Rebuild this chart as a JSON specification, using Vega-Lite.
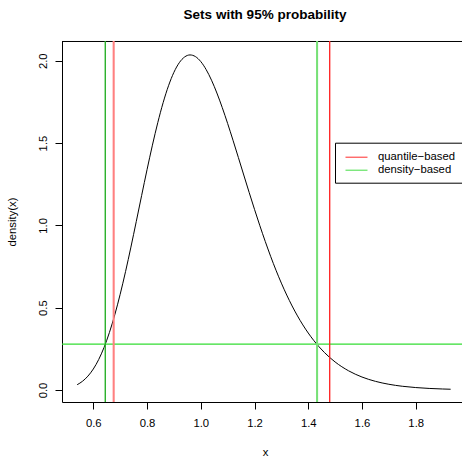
{
  "$schema": "https://vega.github.io/schema/vega-lite/v6.json",
  "autosize": "none",
  "width": 400,
  "height": 361,
  "padding": {"left": 62, "top": 41, "right": 0, "bottom": 55},
  "background": "white",
  "title": {
    "text": "Sets with 95% probability",
    "font": "Liberation Sans",
    "fontSize": 13.5,
    "fontWeight": "bold",
    "color": "black",
    "anchor": "middle",
    "frame": "group",
    "baseline": "alphabetic",
    "dx": 3,
    "offset": 8
  },
  "datasets": {
    "curve": [
      {"x": 0.54, "density": 0.0321},
      {"x": 0.56, "density": 0.0533},
      {"x": 0.58, "density": 0.0843},
      {"x": 0.60, "density": 0.1274},
      {"x": 0.62, "density": 0.1849},
      {"x": 0.64, "density": 0.2585},
      {"x": 0.66, "density": 0.3492},
      {"x": 0.68, "density": 0.4570},
      {"x": 0.70, "density": 0.5811},
      {"x": 0.72, "density": 0.7190},
      {"x": 0.74, "density": 0.8679},
      {"x": 0.76, "density": 1.0238},
      {"x": 0.78, "density": 1.1821},
      {"x": 0.80, "density": 1.3381},
      {"x": 0.82, "density": 1.4869},
      {"x": 0.84, "density": 1.6240},
      {"x": 0.86, "density": 1.7454},
      {"x": 0.88, "density": 1.8479},
      {"x": 0.90, "density": 1.9292},
      {"x": 0.92, "density": 1.9877},
      {"x": 0.94, "density": 2.0228},
      {"x": 0.96, "density": 2.0350},
      {"x": 0.98, "density": 2.0250},
      {"x": 1.00, "density": 1.9947},
      {"x": 1.02, "density": 1.9460},
      {"x": 1.04, "density": 1.8815},
      {"x": 1.06, "density": 1.8036},
      {"x": 1.08, "density": 1.7152},
      {"x": 1.10, "density": 1.6187},
      {"x": 1.12, "density": 1.5168},
      {"x": 1.14, "density": 1.4118},
      {"x": 1.16, "density": 1.3057},
      {"x": 1.18, "density": 1.2003},
      {"x": 1.20, "density": 1.0971},
      {"x": 1.22, "density": 0.9974},
      {"x": 1.24, "density": 0.9021},
      {"x": 1.26, "density": 0.8120},
      {"x": 1.28, "density": 0.7275},
      {"x": 1.30, "density": 0.6490},
      {"x": 1.32, "density": 0.5766},
      {"x": 1.34, "density": 0.5103},
      {"x": 1.36, "density": 0.4499},
      {"x": 1.38, "density": 0.3952},
      {"x": 1.40, "density": 0.3460},
      {"x": 1.42, "density": 0.3020},
      {"x": 1.44, "density": 0.2628},
      {"x": 1.46, "density": 0.2281},
      {"x": 1.48, "density": 0.1974},
      {"x": 1.50, "density": 0.1703},
      {"x": 1.55, "density": 0.1167},
      {"x": 1.60, "density": 0.0788},
      {"x": 1.65, "density": 0.0526},
      {"x": 1.70, "density": 0.0348},
      {"x": 1.75, "density": 0.0227},
      {"x": 1.80, "density": 0.0148},
      {"x": 1.85, "density": 0.0095},
      {"x": 1.90, "density": 0.0061},
      {"x": 1.93, "density": 0.0046}
    ],
    "bounds": [
      {"type": "quantile−based", "side": "lower", "x": 0.6757},
      {"type": "quantile−based", "side": "upper", "x": 1.4799},
      {"type": "density−based", "side": "lower", "x": 0.6445},
      {"type": "density−based", "side": "upper", "x": 1.4330}
    ],
    "level": [{"density": 0.278}]
  },
  "layer": [
    {
      "data": {"name": "curve"},
      "mark": {"type": "line", "color": "black", "strokeWidth": 1, "interpolate": "monotone"},
      "encoding": {
        "x": {
          "field": "x", "type": "quantitative",
          "scale": {"domain": [0.4835, 1.9723], "nice": false, "zero": false},
          "axis": {
            "title": "x",
            "values": [0.6, 0.8, 1.0, 1.2, 1.4, 1.6, 1.8],
            "format": ".1f",
            "grid": false,
            "tickSize": 7,
            "labelBaseline": "alphabetic",
            "labelPadding": 17,
            "labelFlush": false,
            "labelOverlap": false,
            "titleX": 203,
            "titleY": 53,
            "titleBaseline": "alphabetic",
            "titleAlign": "center"
          }
        },
        "y": {
          "field": "density", "type": "quantitative",
          "scale": {"domain": [-0.0729, 2.1196], "nice": false, "zero": false},
          "axis": {
            "title": "density(x)",
            "values": [0, 0.5, 1.0, 1.5, 2.0],
            "format": ".1f",
            "grid": false,
            "tickSize": 7,
            "labelAngle": 270,
            "labelAlign": "center",
            "labelBaseline": "alphabetic",
            "labelPadding": 9,
            "labelFlush": false,
            "labelOverlap": false,
            "titleAngle": 270,
            "titleX": -46.5,
            "titleY": 180.5,
            "titleBaseline": "alphabetic",
            "titleAlign": "center"
          }
        }
      }
    },
    {
      "data": {"values": [{}]},
      "mark": {"type": "rule", "color": "black", "strokeWidth": 1},
      "encoding": {"y": {"datum": 2.1166}}
    },
    {
      "data": {"name": "level"},
      "mark": {"type": "rule", "color": "#33dd33", "strokeWidth": 1.2},
      "encoding": {"y": {"field": "density", "type": "quantitative"}}
    },
    {
      "data": {"name": "bounds"},
      "mark": {"type": "rule", "strokeWidth": 1},
      "encoding": {
        "x": {"field": "x", "type": "quantitative"},
        "color": {
          "field": "type", "type": "nominal",
          "scale": {"domain": ["quantile−based", "density−based"], "range": ["#ff2a2a", "#44dd44"]},
          "legend": {
            "orient": "none",
            "legendX": 273,
            "legendY": 101.7,
            "title": null,
            "symbolType": "M-1.57,0H1.57",
            "symbolSize": 196,
            "symbolStrokeWidth": 1,
            "symbolOffset": 7,
            "labelOffset": 14,
            "padding": 7,
            "rowPadding": 0,
            "strokeColor": "black",
            "fillColor": "white",
            "labelFont": "Liberation Sans",
            "labelFontSize": 11.3,
            "labelColor": "black"
          }
        }
      }
    },
    {
      "data": {"name": "bounds"},
      "transform": [{"filter": "datum.side === 'lower' && datum.type === 'quantile−based'"}],
      "mark": {"type": "rule", "color": "#ff8080", "strokeWidth": 2},
      "encoding": {"x": {"field": "x", "type": "quantitative"}}
    },
    {
      "data": {"name": "bounds"},
      "transform": [{"filter": "datum.side === 'lower' && datum.type === 'density−based'"}],
      "mark": {"type": "rule", "color": "#1a9e1a", "strokeWidth": 1},
      "encoding": {"x": {"field": "x", "type": "quantitative"}}
    },
    {
      "data": {"name": "bounds"},
      "transform": [{"filter": "datum.side === 'upper' && datum.type === 'density−based'"}],
      "mark": {"type": "rule", "color": "#77e077", "strokeWidth": 2},
      "encoding": {"x": {"field": "x", "type": "quantitative"}}
    },
    {
      "data": {"name": "bounds"},
      "transform": [{"filter": "datum.side === 'upper' && datum.type === 'quantile−based'"}],
      "mark": {"type": "rule", "color": "#ff2020", "strokeWidth": 1},
      "encoding": {"x": {"field": "x", "type": "quantitative"}}
    }
  ],
  "config": {
    "view": {"stroke": null},
    "axis": {
      "domainColor": "black",
      "tickColor": "black",
      "labelColor": "black",
      "titleColor": "black",
      "labelFont": "Liberation Sans",
      "titleFont": "Liberation Sans",
      "labelFontSize": 11.3,
      "titleFontSize": 11.3,
      "titleFontWeight": "normal"
    }
  }
}
